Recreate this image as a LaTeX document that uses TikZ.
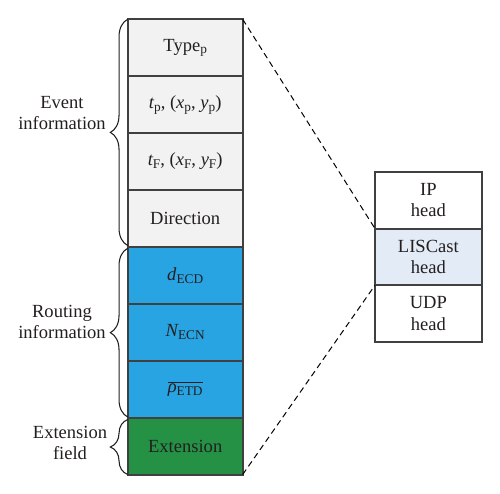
\documentclass[tikz,border=0pt]{standalone}
\usepackage{fontspec}
\setmainfont{Liberation Serif}
\usetikzlibrary{decorations.pathreplacing}
\newcommand\pxu{0.75pt}
\newcommand\sbs[1]{\raisebox{-0.32ex}{\fontsize{10}{10}\selectfont #1}}
\definecolor{cellgray}{HTML}{F2F2F2}
\definecolor{cellblue}{HTML}{29A4E2}
\definecolor{cellgreen}{HTML}{249145}
\definecolor{celllight}{HTML}{E3EBF6}
\definecolor{edge}{HTML}{404040}
\definecolor{ink}{HTML}{231F20}
\begin{document}
\begin{tikzpicture}[x=0.75pt,y=-0.75pt,
  font=\fontsize{13.9}{15.8}\selectfont, text=ink,
  leftcell/.style={draw=edge, line width=1.5pt, minimum width=115*\pxu, minimum height=56.9*\pxu, inner sep=0pt, outer sep=0pt, anchor=north west},
  rightcell/.style={draw=edge, line width=1.5pt, minimum width=106.7*\pxu, minimum height=56.6*\pxu, inner sep=0pt, outer sep=0pt, anchor=north west, align=center},
  bracestyle/.style={draw=ink, line width=0.8pt, decorate, decoration={brace, amplitude=13pt}},
  sidelabel/.style={align=center, font=\fontsize{13.9}{15.8}\selectfont},
  zoomline/.style={draw=black, line width=0.75pt, dash pattern=on 4.5pt off 3pt}]
\useasboundingbox (0,0) rectangle (500,493);
% left column
\node[leftcell, fill=cellgray] (r1) at (127.7,19.3) {Type\sbs{p}};
\node[leftcell, fill=cellgray] (r2) at (127.7,76.2) {{\itshape t}\sbs{p}, ({\itshape x}\sbs{p}, {\itshape y}\sbs{p})};
\node[leftcell, fill=cellgray] (r3) at (127.7,133.1) {{\itshape t}\sbs{F}, ({\itshape x}\sbs{F}, {\itshape y}\sbs{F})};
\node[leftcell, fill=cellgray] (r4) at (127.7,190.0) {Direction};
\node[leftcell, fill=cellblue] (r5) at (127.7,246.9) {{\itshape d}\sbs{ECD}};
\node[leftcell, fill=cellblue] (r6) at (127.7,303.8) {{\itshape N}\sbs{ECN}};
\node[leftcell, fill=cellblue] (r7) at (127.7,360.7) {$\overline{\hbox{{\itshape ρ}\sbs{ETD}}}$};
\node[leftcell, fill=cellgreen] (r8) at (127.7,417.6) {Extension};
% right column
\node[rightcell, fill=white] (h1) at (375,172) {IP\\head};
\node[rightcell, fill=celllight] (h2) at (375,228.6) {LISCast\\head};
\node[rightcell, fill=white] (h3) at (375,285.2) {UDP\\head};
% zoom lines
\draw[zoomline] (r1.north east) -- (h2.north west);
\draw[zoomline] (r8.south east) -- (h2.south west);
% braces
\coordinate (b1a) at (127.7,245.5);
\coordinate (b1b) at (127.7,19.3);
\coordinate (b2a) at (127.7,417.0);
\coordinate (b2b) at (127.7,248.3);
\coordinate (b3a) at (127.7,474.5);
\coordinate (b3b) at (127.7,419.5);
\draw[bracestyle] (b1a) -- (b1b);
\draw[bracestyle] (b2a) -- (b2b);
\draw[bracestyle] (b3a) -- (b3b);
% labels
\node[sidelabel] (l1) at (62,113) {Event\\information};
\node[sidelabel] (l2) at (62,322) {Routing\\information};
\node[sidelabel] (l3) at (70,443) {Extension\\field};
\end{tikzpicture}
\end{document}
